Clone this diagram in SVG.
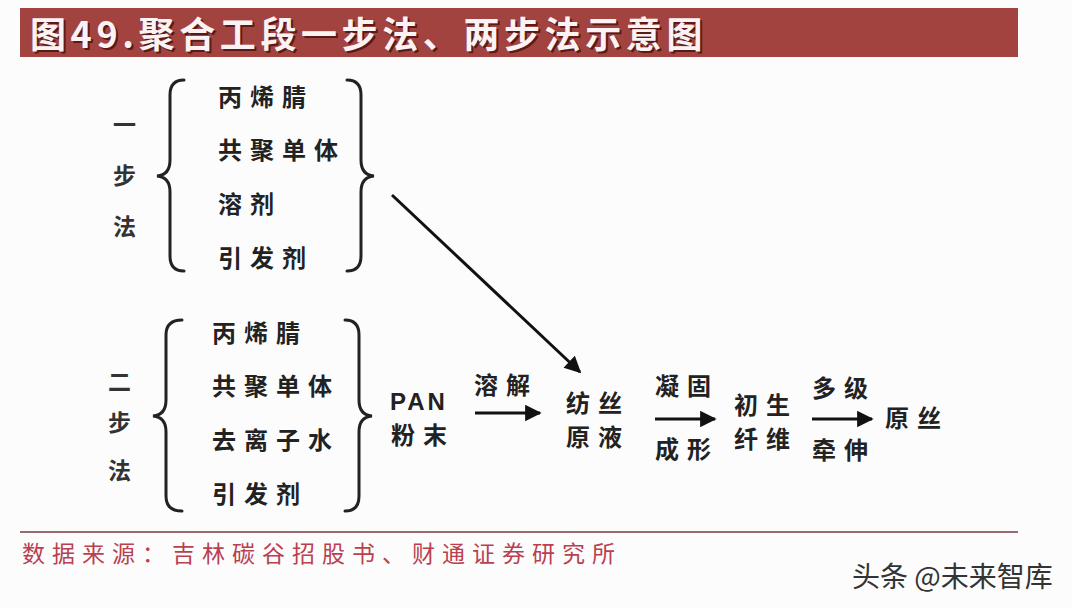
<svg xmlns="http://www.w3.org/2000/svg" width="1072" height="608" viewBox="0 0 1072 608">
<defs>
<style>
.t{font-family:"Noto Sans CJK SC","Noto Sans",sans-serif;font-weight:bold;font-size:24px;fill:#222;letter-spacing:8px}
.side{font-family:"Noto Sans CJK SC",sans-serif;font-weight:bold;font-size:23px;fill:#333}
.br{fill:none;stroke:#222;stroke-width:3;stroke-linecap:round}
.ar{stroke:#111;stroke-width:3;fill:none}
.tt{font-family:"Noto Sans CJK SC",serif;font-weight:bold;font-size:36px;letter-spacing:4.6px}
</style>
<marker id="ah" viewBox="0 0 10 10" refX="9" refY="5" markerWidth="6" markerHeight="5.5" orient="auto" markerUnits="strokeWidth"><path d="M0,0 L10,5 L0,10 z" fill="#111"/></marker>
</defs>
<rect width="1072" height="608" fill="#fcfcfd"/>
<g id="title">
<rect x="20" y="8" width="998" height="49" fill="#a3433f"/>
<text class="tt" x="30" y="48" fill="#5a1a18" transform="translate(2,2)">图49.聚合工段一步法、两步法示意图</text>
<text class="tt" x="30" y="48" fill="#fbf3f3">图49.聚合工段一步法、两步法示意图</text>
</g>
<g id="onestep">
<text class="side" x="113" y="133">一</text>
<text class="side" x="113" y="184">步</text>
<text class="side" x="113" y="235">法</text>
<path class="br" d="M184,80 Q170,80 170,95 L170,160 Q170,175 157,176 Q170,177 170,192 L170,256 Q170,271 184,271"/>
<text class="t" x="218" y="106">丙烯腈</text>
<text class="t" x="218" y="159">共聚单体</text>
<text class="t" x="218" y="213">溶剂</text>
<text class="t" x="218" y="267">引发剂</text>
<path class="br" d="M347,80 Q361,80 361,95 L361,160 Q361,175 374,176 Q361,177 361,192 L361,256 Q361,271 347,271"/>
</g>
<g id="twostep">
<text class="side" x="108" y="390">二</text>
<text class="side" x="108" y="431">步</text>
<text class="side" x="108" y="479">法</text>
<path class="br" d="M182,320 Q166,320 166,335 L166,400 Q166,415 153,416 Q166,417 166,432 L166,496 Q166,511 182,511"/>
<text class="t" x="212" y="342">丙烯腈</text>
<text class="t" x="212" y="395">共聚单体</text>
<text class="t" x="212" y="449">去离子水</text>
<text class="t" x="212" y="503">引发剂</text>
<path class="br" d="M345,320 Q359,320 359,335 L359,400 Q359,415 372,416 Q359,417 359,432 L359,496 Q359,511 345,511"/>
</g>
<g id="pan"><text class="t" x="390" y="410" style="font-family:'Liberation Sans',sans-serif;letter-spacing:3px">PAN</text><text class="t" x="391" y="444">粉末</text></g>
<g id="solution"><text class="t" x="566" y="412">纺丝</text><text class="t" x="566" y="446">原液</text></g>
<g id="fiber"><text class="t" x="734" y="414">初生</text><text class="t" x="734" y="448">纤维</text></g>
<g id="precursor"><text class="t" x="885" y="427">原丝</text></g>
<g id="connectors">
<line class="ar" x1="392" y1="195" x2="580" y2="372" marker-end="url(#ah)"/>
<line class="ar" x1="475" y1="413" x2="540" y2="413" marker-end="url(#ah)"/>
<line class="ar" x1="655" y1="419" x2="715" y2="419" marker-end="url(#ah)"/>
<line class="ar" x1="812" y1="419" x2="872" y2="419" marker-end="url(#ah)"/>
<text class="t" x="474" y="394">溶解</text>
<text class="t" x="655" y="395">凝固</text>
<text class="t" x="655" y="458">成形</text>
<text class="t" x="812" y="397">多级</text>
<text class="t" x="812" y="459">牵伸</text>
</g>
<g id="footer">
<line x1="20" y1="532" x2="1018" y2="532" stroke="#7a3b3b" stroke-width="1.5"/>
<text x="22" y="562" font-family="Noto Sans CJK SC,sans-serif" font-size="23" fill="#b9404f" letter-spacing="7">数据来源：吉林碳谷招股书、财通证券研究所</text>
<text x="852" y="587" font-family="Noto Sans CJK SC,sans-serif" font-size="28" fill="#333">头条 @未来智库</text>
</g>
</svg>
